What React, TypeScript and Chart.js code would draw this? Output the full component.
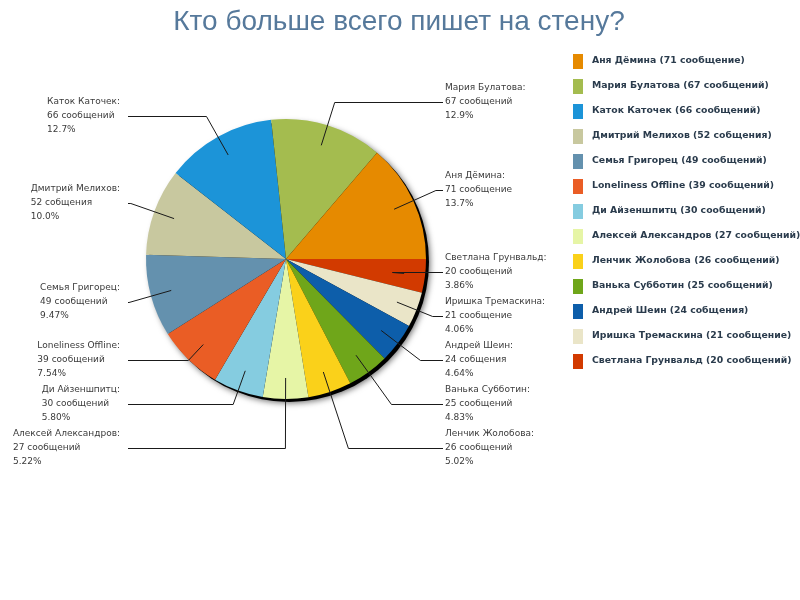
import { useEffect, useRef } from "react";
import { Chart, registerables } from "chart.js";

Chart.register(...registerables);

const titleText = "Кто больше всего пишет на стену?";

// people, in legend order (counter-clockwise from 3 o'clock on the pie)
const names = [
  "Аня Дёмина",
  "Мария Булатова",
  "Каток Каточек",
  "Дмитрий Мелихов",
  "Семья Григорец",
  "Loneliness Offline",
  "Ди Айзеншпитц",
  "Алексей Александров",
  "Ленчик Жолобова",
  "Ванька Субботин",
  "Андрей Шеин",
  "Иришка Тремаскина",
  "Светлана Грунвальд",
];
const messages = [71, 67, 66, 52, 49, 39, 30, 27, 26, 25, 24, 21, 20];
const units = [
  "сообщение",
  "сообщений",
  "сообщений",
  "собщения",
  "сообщений",
  "сообщений",
  "сообщений",
  "сообщений",
  "сообщений",
  "сообщений",
  "собщения",
  "сообщение",
  "сообщений",
];
const colors = [
  "#e68a00",
  "#a4bc4f",
  "#1c94d8",
  "#c8c89f",
  "#6491ae",
  "#ea5d25",
  "#85cce0",
  "#e6f5a6",
  "#fad11a",
  "#6fa61a",
  "#0d5eaa",
  "#eae5c8",
  "#d23a00",
];

const total = messages.reduce((a, b) => a + b, 0);
// the original cuts to 3 digits instead of rounding
const pct = (v: number) => {
  const p = (v / total) * 100;
  const digits = p >= 10 ? 1 : 2;
  const f = Math.pow(10, digits);
  return (Math.floor(p * f + 1e-9) / f).toFixed(digits) + "%";
};

// chart.js draws clockwise, the original goes the other way round
const pieNames = [...names].reverse();
const pieValues = [...messages].reverse();
const pieUnits = [...units].reverse();
const pieColors = [...colors].reverse();

const shadowPlugin = {
  id: "pieShadow",
  beforeDatasetsDraw(chart: any) {
    const arc = chart.getDatasetMeta(0).data[0];
    if (!arc) return;
    const ctx = chart.ctx;
    ctx.save();
    ctx.shadowColor = "rgba(0,0,0,0.6)";
    ctx.shadowBlur = 6;
    ctx.shadowOffsetX = 1;
    ctx.shadowOffsetY = 1;
    ctx.fillStyle = "#000";
    ctx.beginPath();
    ctx.arc(arc.x + 3, arc.y + 3, arc.outerRadius, 0, Math.PI * 2);
    ctx.fill();
    ctx.restore();
  },
};

const labelPlugin = {
  id: "sideLabels",
  afterDatasetsDraw(chart: any) {
    const ctx = chart.ctx;
    const arcs = chart.getDatasetMeta(0).data;
    const cx = arcs[0].x;
    const cy = arcs[0].y;
    const r = arcs[0].outerRadius;

    // title
    ctx.save();
    ctx.fillStyle = "#56799b";
    ctx.font = "28px 'Liberation Sans', sans-serif";
    ctx.textAlign = "center";
    ctx.textBaseline = "middle";
    ctx.fillText(titleText, 399, 22);
    ctx.restore();

    // labels with leader lines
    const items = arcs.map((a: any, i: number) => {
      const mid = (a.startAngle + a.endAngle) / 2;
      return {
        i,
        mid,
        right: Math.cos(mid) > 0,
        y: cy + 164 * Math.sin(mid),
      };
    });
    const gap = 44;
    const bottom = cy + 189;
    [true, false].forEach((side) => {
      const list = items.filter((it: any) => it.right === side).sort((a: any, b: any) => a.y - b.y);
      for (let k = 1; k < list.length; k++) list[k].y = Math.max(list[k].y, list[k - 1].y + gap);
      if (list.length) list[list.length - 1].y = Math.min(list[list.length - 1].y, bottom);
      for (let k = list.length - 2; k >= 0; k--) list[k].y = Math.min(list[k].y, list[k + 1].y - gap);
    });

    ctx.save();
    ctx.font = "9px 'DejaVu Sans', sans-serif";
    ctx.textBaseline = "middle";
    ctx.textAlign = "left";
    items.forEach((it: any) => {
      const cos = Math.cos(it.mid);
      const sin = Math.sin(it.mid);
      const px = cx + 0.85 * r * cos;
      const py = cy + 0.85 * r * sin;
      const ly = Math.round(it.y);
      const lineEnd = it.right ? cx + 157 : cx - 158;
      let ex = Math.abs(sin) > 0.01 ? cx + ((ly - cy) / sin) * cos : lineEnd;
      ex = it.right ? Math.min(ex, lineEnd) : Math.max(ex, lineEnd);

      ctx.strokeStyle = "#1a1a1a";
      ctx.lineWidth = 1;
      ctx.beginPath();
      ctx.moveTo(px, py);
      ctx.lineTo(ex, ly + 0.5);
      ctx.lineTo(lineEnd, ly + 0.5);
      ctx.stroke();

      const lines = [
        pieNames[it.i] + ":",
        pieValues[it.i] + " " + pieUnits[it.i],
        pct(pieValues[it.i]),
      ];
      const w = Math.max(...lines.map((s) => ctx.measureText(s).width));
      const tx = it.right ? cx + 159 : cx - 166 - w;
      ctx.fillStyle = "#3a3a3a";
      lines.forEach((s, k) => ctx.fillText(s, tx, ly + (k - 1) * 14));
    });
    ctx.restore();

    // legend
    ctx.save();
    ctx.font = "bold 9.3px 'DejaVu Sans', sans-serif";
    ctx.textBaseline = "middle";
    ctx.textAlign = "left";
    names.forEach((n, i) => {
      const y = 61 + i * 25;
      ctx.fillStyle = colors[i];
      ctx.fillRect(573, y - 7, 10, 15);
      ctx.fillStyle = "#2a3b4c";
      ctx.fillText(n + " (" + messages[i] + " " + units[i] + ")", 592, y);
    });
    ctx.restore();
  },
};

export default function App() {
  const canvasRef = useRef<HTMLCanvasElement | null>(null);

  useEffect(() => {
    if (!canvasRef.current) return;

    const chart = new Chart(canvasRef.current, {
      type: "pie",
      data: {
        labels: pieNames,
        datasets: [
          {
            data: pieValues,
            backgroundColor: pieColors,
            borderWidth: 0,
            hoverOffset: 0,
          },
        ],
      },
      options: {
        animation: false,
        responsive: false,
        rotation: 90,
        layout: { padding: { left: 146, top: 119, right: 374, bottom: 201 } },
        plugins: {
          legend: { display: false },
          tooltip: { enabled: false },
        },
      },
      plugins: [shadowPlugin, labelPlugin],
    });

    return () => {
      chart.destroy();
    };
  }, []);

  return (
    <div style={{ position: "fixed", left: 0, top: 0, width: 800, height: 600, background: "#fff" }}>
      <canvas ref={canvasRef} width={800} height={600}></canvas>
    </div>
  );
}
